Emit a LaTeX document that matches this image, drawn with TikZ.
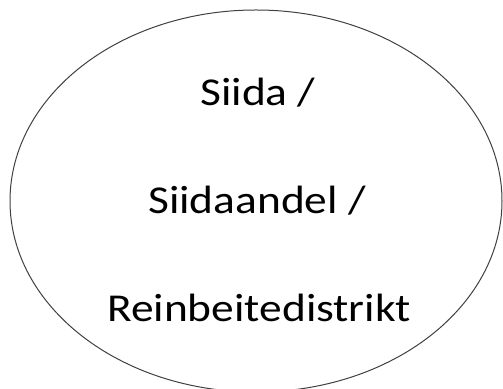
\documentclass[tikz,border=0pt]{standalone}
\usepackage{fontspec}
\setmainfont{Carlito}
\usetikzlibrary{shapes.geometric}
\begin{document}
\begin{tikzpicture}[x=1pt,y=1pt,
  oval/.style={ellipse,draw=black!75,line width=1pt,inner sep=0pt,minimum width=492pt,minimum height=382pt},
  label/.style={anchor=base,inner sep=0pt,xscale=1.15,transform shape,font=\fontsize{39.5}{39.5}\selectfont}]
\useasboundingbox (0,0) rectangle (503,388);
\clip (0,0) rectangle (503,388);
\node[oval] (ring) at (256,187) {};
\node[label] (l1) at (258,282) {Siida /};
\node[label] (l2) at (257,174) {Siidaandel /};
\node[label] (l3) at (259,66) {Reinbeitedistrikt};
\end{tikzpicture}
\end{document}
